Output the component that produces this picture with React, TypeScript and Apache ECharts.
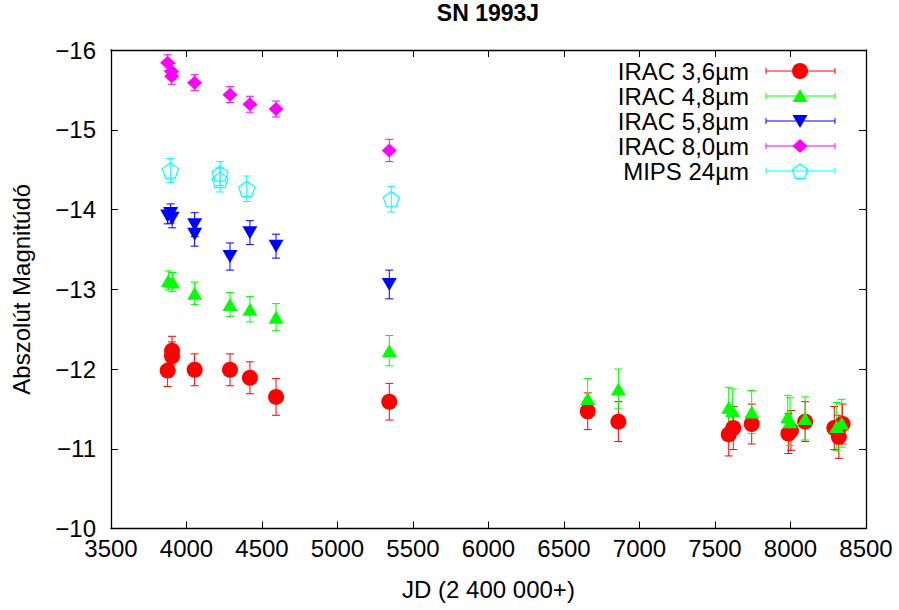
import React, { useEffect, useRef } from "react";
import * as echarts from "echarts";

// ---- Data (JD - 2400000, absolute magnitude, error) ----
const irac36X = [3875, 3904, 3904, 4054, 4288, 4420, 4593, 5343, 6657, 6860, 7591, 7621, 7743, 7986, 8003, 8097, 8290, 8320, 8345];
const irac36Y = [-11.98, -12.23, -12.16, -11.99, -11.99, -11.89, -11.65, -11.59, -11.47, -11.34, -11.18, -11.26, -11.31, -11.19, -11.23, -11.34, -11.26, -11.15, -11.31];
const irac36E = [0.2, 0.18, 0.18, 0.2, 0.2, 0.2, 0.23, 0.23, 0.23, 0.25, 0.27, 0.27, 0.25, 0.25, 0.25, 0.25, 0.27, 0.27, 0.25];

const irac48X = [3880, 3908, 4054, 4288, 4420, 4593, 5343, 6657, 6860, 7591, 7617, 7743, 7982, 7997, 8097, 8306, 8339];
const irac48Y = [-13.11, -13.09, -12.95, -12.81, -12.75, -12.65, -12.23, -11.63, -11.75, -11.52, -11.48, -11.46, -11.4, -11.34, -11.38, -11.28, -11.32];
const irac48E = [0.12, 0.12, 0.14, 0.15, 0.16, 0.17, 0.19, 0.25, 0.25, 0.25, 0.27, 0.27, 0.27, 0.3, 0.27, 0.3, 0.3];

const irac58X = [3875, 3895, 3905, 4054, 4054, 4288, 4420, 4593, 5343];
const irac58Y = [-13.92, -13.95, -13.89, -13.81, -13.69, -13.41, -13.71, -13.54, -13.06];
const irac58E = [0.1, 0.12, 0.12, 0.15, 0.15, 0.17, 0.15, 0.15, 0.18];

const irac80X = [3875, 3902, 3902, 4054, 4288, 4420, 4593, 5343];
const irac80Y = [-15.84, -15.73, -15.67, -15.59, -15.44, -15.32, -15.26, -14.74];
const irac80E = [0.1, 0.1, 0.1, 0.1, 0.1, 0.1, 0.1, 0.14];

const mips24X = [3893, 4222, 4222, 4399, 5356];
const mips24Y = [-14.49, -14.45, -14.37, -14.26, -14.13];
const mips24E = [0.15, 0.15, 0.15, 0.16, 0.16];

const seriesNames = ["IRAC 3,6µm", "IRAC 4,8µm", "IRAC 5,8µm", "IRAC 8,0µm", "MIPS 24µm"];
const xTicks = { min: 3500, max: 8500, interval: 500 };
const yTicks = { min: -16, max: -10, interval: 1 };

const FONT = "'Liberation Sans', Arial, Helvetica, sans-serif";
const PENTAGON = "path://M0,-1 L0.9511,-0.309 L0.5878,0.809 L-0.5878,0.809 L-0.9511,-0.309 Z";

const DEFS = [
  { name: seriesNames[0], xs: irac36X, ys: irac36Y, es: irac36E, color: "#ff0000", kind: "circle" },
  { name: seriesNames[1], xs: irac48X, ys: irac48Y, es: irac48E, color: "#00ff00", kind: "up" },
  { name: seriesNames[2], xs: irac58X, ys: irac58Y, es: irac58E, color: "#0000ff", kind: "down" },
  { name: seriesNames[3], xs: irac80X, ys: irac80Y, es: irac80E, color: "#ff00ff", kind: "diamond" },
  { name: seriesNames[4], xs: mips24X, ys: mips24Y, es: mips24E, color: "#00ffff", kind: "pentagon" },
];

function symbolProps(kind: string, color: string) {
  switch (kind) {
    case "circle":
      return { symbol: "circle", symbolSize: 16, itemStyle: { color, opacity: 1 } };
    case "up":
      return { symbol: "triangle", symbolSize: [15, 13], itemStyle: { color, opacity: 1 } };
    case "down":
      return { symbol: "triangle", symbolSize: [15, 13], symbolRotate: 180, itemStyle: { color, opacity: 1 } };
    case "diamond":
      return { symbol: "diamond", symbolSize: [15, 14], itemStyle: { color, opacity: 1 } };
    default:
      return {
        symbol: PENTAGON,
        symbolSize: 16,
        symbolKeepAspect: true,
        itemStyle: { color: "rgba(0,0,0,0)", borderColor: color, borderWidth: 1.2, opacity: 1 },
      };
  }
}

function legendMarker(kind: string, color: string, cx: number, cy: number): any {
  if (kind === "circle") return { type: "circle", shape: { cx, cy, r: 8 }, style: { fill: color } };
  if (kind === "up")
    return { type: "polygon", shape: { points: [[cx - 7.5, cy + 6], [cx + 7.5, cy + 6], [cx, cy - 7]] }, style: { fill: color } };
  if (kind === "down")
    return { type: "polygon", shape: { points: [[cx - 7.5, cy - 6], [cx + 7.5, cy - 6], [cx, cy + 7]] }, style: { fill: color } };
  if (kind === "diamond")
    return { type: "polygon", shape: { points: [[cx, cy - 7], [cx + 7.5, cy], [cx, cy + 7], [cx - 7.5, cy]] }, style: { fill: color } };
  const pts: number[][] = [];
  for (let k = 0; k < 5; k++) {
    const a = -Math.PI / 2 + (k * 2 * Math.PI) / 5;
    pts.push([cx + 8 * Math.cos(a), cy + 1 + 8 * Math.sin(a)]);
  }
  return { type: "polygon", shape: { points: pts }, style: { fill: "none", stroke: color, lineWidth: 1.2 } };
}

export default function App() {
  const ref = useRef<HTMLDivElement>(null);

  useEffect(() => {
    document.body.style.margin = "0";
    if (!ref.current) return;
    const chart = echarts.init(ref.current, null, { renderer: "svg" });

    const series: any[] = [];
    DEFS.forEach((d) => {
      series.push({
        type: "custom",
        name: d.name + " err",
        xAxisIndex: 0,
        yAxisIndex: 0,
        data: d.xs.map((x, i) => [x, d.ys[i] - d.es[i], d.ys[i] + d.es[i]]),
        encode: { x: 0, y: [1, 2] },
        renderItem: (params: any, api: any) => {
          const x = api.value(0);
          const p1 = api.coord([x, api.value(1)]);
          const p2 = api.coord([x, api.value(2)]);
          const hw = 4;
          const st = { stroke: d.color, lineWidth: 1 };
          return {
            type: "group",
            children: [
              { type: "line", shape: { x1: p1[0], y1: p1[1], x2: p2[0], y2: p2[1] }, style: st },
              { type: "line", shape: { x1: p1[0] - hw, y1: p1[1], x2: p1[0] + hw, y2: p1[1] }, style: st },
              { type: "line", shape: { x1: p2[0] - hw, y1: p2[1], x2: p2[0] + hw, y2: p2[1] }, style: st },
            ],
          };
        },
        silent: true,
      });
      series.push({
        type: "scatter",
        name: d.name,
        xAxisIndex: 0,
        yAxisIndex: 0,
        data: d.xs.map((x, i) => [x, d.ys[i]]),
        ...symbolProps(d.kind, d.color),
      });
    });

    // Legend (gnuplot style) built with graphic elements
    const legendEls: any[] = [];
    DEFS.forEach((d, i) => {
      const y = 71 + 25 * i;
      legendEls.push({
        type: "text",
        x: 749,
        y,
        style: { text: d.name, align: "right", verticalAlign: "middle", fontSize: 24, fontFamily: FONT, fill: "#000" },
      });
      const st = { stroke: d.color, lineWidth: 1 };
      legendEls.push({ type: "line", shape: { x1: 766, y1: y, x2: 835, y2: y }, style: st });
      legendEls.push({ type: "line", shape: { x1: 766, y1: y - 3, x2: 766, y2: y + 3 }, style: st });
      legendEls.push({ type: "line", shape: { x1: 835, y1: y - 3, x2: 835, y2: y + 3 }, style: st });
      legendEls.push(legendMarker(d.kind, d.color, 800, y));
    });

    const axisLine = { show: true, lineStyle: { color: "#000", width: 1.3 } };
    const axisTick = { show: true, inside: true, length: 7, lineStyle: { color: "#000", width: 1 } };
    const labelStyle = { fontSize: 24, color: "#000", fontFamily: FONT };
    const minus = (v: number) => (v < 0 ? "\u2212" + Math.abs(v) : String(v));

    chart.setOption({
      animation: false,
      backgroundColor: "#fff",
      grid: { left: 111, right: 33, top: 50, bottom: 81.5, containLabel: false },
      xAxis: [
        {
          type: "value",
          position: "bottom",
          ...xTicks,
          axisLine,
          axisTick,
          axisLabel: { ...labelStyle, margin: 8, formatter: (v: number) => String(v) },
          splitLine: { show: false },
          name: "JD (2 400 000+)",
          nameLocation: "middle",
          nameGap: 49,
          nameTextStyle: { fontSize: 24, color: "#000", fontFamily: FONT },
        },
        {
          type: "value",
          position: "top",
          ...xTicks,
          axisLine,
          axisTick,
          axisLabel: { show: false },
          splitLine: { show: false },
        },
      ],
      yAxis: [
        {
          type: "value",
          position: "left",
          inverse: true,
          ...yTicks,
          axisLine,
          axisTick,
          axisLabel: { ...labelStyle, margin: 15, formatter: minus },
          splitLine: { show: false },
          name: "Abszolút Magnitúdó",
          nameLocation: "middle",
          nameGap: 78,
          nameRotate: 90,
          nameTextStyle: { fontSize: 24, color: "#000", fontFamily: FONT },
        },
        {
          type: "value",
          position: "right",
          inverse: true,
          ...yTicks,
          axisLine,
          axisTick,
          axisLabel: { show: false },
          splitLine: { show: false },
        },
      ],
      graphic: [
        {
          type: "text",
          x: 488,
          y: 13,
          style: { text: "SN 1993J", align: "center", verticalAlign: "middle", fontSize: 23, fontWeight: "bold", fontFamily: FONT, fill: "#000" },
        },
        ...legendEls,
      ],
      series,
    });

    return () => chart.dispose();
  }, []);

  return <div ref={ref} style={{ width: 899, height: 610 }} />;
}
